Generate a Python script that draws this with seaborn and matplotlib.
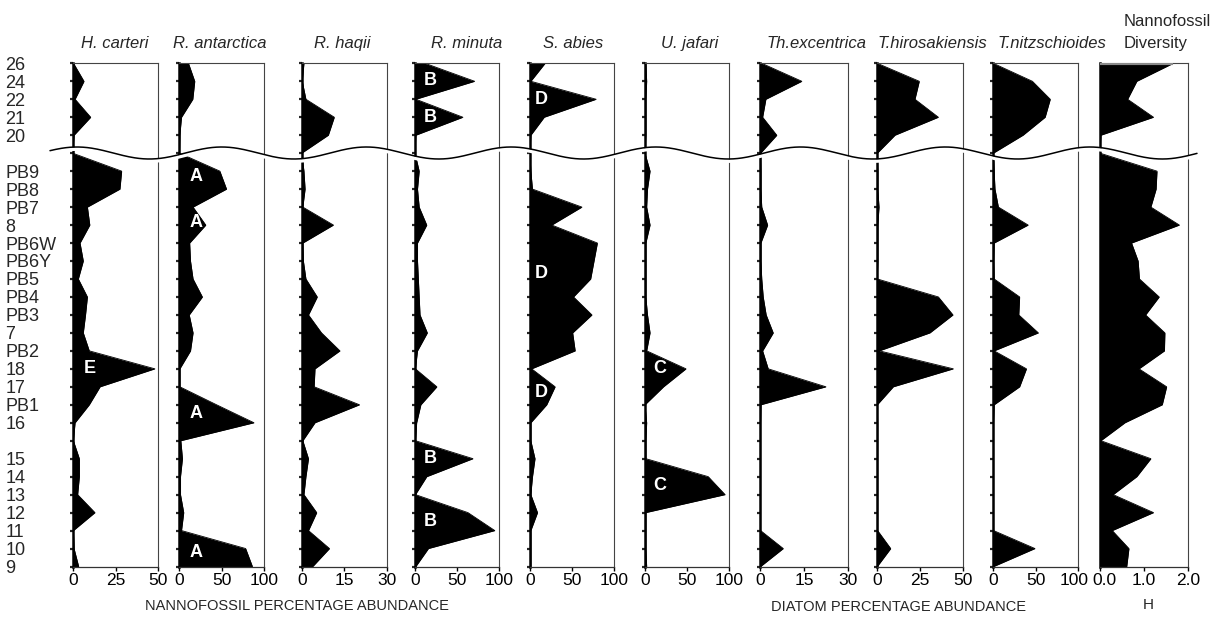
import numpy as np
import matplotlib
matplotlib.use('Agg')
import matplotlib.pyplot as plt
import matplotlib.transforms as mtransforms
import seaborn as sns

# sample levels, top to bottom ('' = break / gap rows)
sample_labels = ['26', '24', '22', '21', '20', '', 'PB9', 'PB8', 'PB7', '8', 'PB6W', 'PB6Y',
                 'PB5', 'PB4', 'PB3', '7', 'PB2', '18', '17', 'PB1', '16', '',
                 '15', '14', '13', '12', '11', '10', '9']

h_carteri = [0.5, 6.6, 1.4, 10.5, 0.8, 0, 28.6, 27.6, 8.6, 10, 4.3, 6.2, 3.3, 8.6, 7.5,
             6.2, 9.7, 48, 16, 9.7, 1.4, 0.4, 3.9, 3.9, 2.9, 13, 0.4, 0.8, 3.5]
r_antarctica = [10.6, 18, 15.7, 2.4, 0.4, 0, 47.6, 55.5, 16, 31, 12, 13, 16, 27, 11.5,
                16, 13, 0.4, 0.4, 43.7, 87.8, 1.6, 3.5, 1.2, 1.2, 5, 2.4, 78, 86]
r_haqii = [0.8, 0.2, 1.5, 11.5, 9.4, 0, 0.8, 1.2, 0.4, 11.2, 0.4, 0.6, 1.5, 5.5, 2.4,
           7, 13.5, 4.7, 4.4, 20.4, 4.7, 0.4, 2.4, 1.5, 0.8, 5.3, 2.4, 9.8, 3.9]
r_minuta = [12, 71, 1, 57, 1, 0, 5, 3, 5, 14, 3, 3, 4, 5, 6,
            14.7, 3, 0.5, 26, 7, 2, 0.5, 69, 14, 0.5, 63, 95, 16, 1]
s_abies = [18, 1, 79, 17, 1, 0, 1, 3, 62, 26, 80.5, 76.5, 72.5, 52, 74,
           51, 54, 2, 30, 20, 1, 1, 6, 3, 1, 9, 1, 1, 1]
u_jafari = [1, 2, 1, 1, 1, 0, 6, 3, 2, 6, 1, 1, 1, 1, 3,
            6, 2, 48.6, 22, 0, 2, 1, 1, 75, 95, 1, 1, 1, 2]
th_excentrica = [0.6, 14.2, 2, 0.9, 5.7, 0.2, 0.3, 0.3, 0.6, 2.6, 0.3, 0.3, 0.6, 1.1, 2.1,
                 4.5, 0.9, 2.8, 22.4, 0.3, 0.2, 0.2, 0.2, 0.2, 0.2, 0.2, 0.2, 7.9, 0.2]
t_hirosakiensis = [0, 24.4, 21.9, 35.5, 10.3, 0, 0.3, 0.3, 1, 0.3, 0.3, 0.3, 0, 35.5, 44,
                   30.6, 1.2, 44.2, 9.3, 0, 0.2, 0.2, 0.2, 0.2, 0.2, 0.2, 0.2, 7.8, 0]
t_nitzschioides = [0, 46, 67, 61, 35, 0, 1, 2, 6, 41, 1, 0.5, 1, 31, 30,
                   53, 1, 39, 31, 1, 0.3, 0.3, 0.3, 0.3, 0.3, 0.3, 0.3, 49, 0.5]
diversity = [1.67, 0.84, 0.63, 1.22, 0.02, 0, 1.3, 1.28, 1.16, 1.81, 0.72, 0.87, 0.9, 1.35, 1.04,
             1.48, 1.47, 0.89, 1.52, 1.42, 0.57, 0.02, 1.16, 0.84, 0.3, 1.22, 0.28, 0.66, 0.61]

titles = ['H. carteri', 'R. antarctica', 'R. haqii', 'R. minuta', 'S. abies', 'U. jafari',
          'Th.excentrica', 'T.hirosakiensis', 'T.nitzschioides', 'Diversity']
series = [h_carteri, r_antarctica, r_haqii, r_minuta, s_abies, u_jafari,
          th_excentrica, t_hirosakiensis, t_nitzschioides, diversity]
x_max = [50, 100, 30, 100, 100, 100, 30, 50, 100, 2.0]

# zone letters: (panel, value, row, letter)
zone_letters = [(0, 10, 17, 'E'),
                (1, 19, 6.3, 'A'), (1, 19, 8.85, 'A'), (1, 19, 19.5, 'A'), (1, 19, 27.2, 'A'),
                (3, 18, 0.95, 'B'), (3, 18, 3.0, 'B'), (3, 18, 22, 'B'), (3, 18, 25.5, 'B'),
                (4, 13, 2, 'D'), (4, 13, 11.7, 'D'), (4, 13, 18.3, 'D'),
                (5, 18, 17, 'C'), (5, 18, 23.5, 'C')]

sns.set_theme(style='ticks')
plt.rcParams['font.family'] = ['Liberation Sans', 'DejaVu Sans']

W, H = 1215, 641
fig = plt.figure(figsize=(W / 100, H / 100), dpi=100)

panel_px = [(72.7, 158.3), (179.5, 264.3), (301.7, 386.7), (415, 499), (530, 613.7),
            (645, 729.3), (760, 848.3), (877.3, 963.3), (993.3, 1078.3), (1100, 1187.7)]
title_x = [0.49, 0.48, 0.48, 0.62, 0.52, 0.53, 0.64, 0.64, 0.69, 0.63]
top_px, bot_px = 63.3, 566.5
rows = np.arange(len(sample_labels))

axes = []
for i, (name, vals, xm) in enumerate(zip(titles, series, x_max)):
    l, r = panel_px[i]
    ax = fig.add_axes([l / W, 1 - bot_px / H, (r - l) / W, (bot_px - top_px) / H])
    axes.append(ax)
    ax.fill_betweenx(rows, 0, vals, color='black', lw=0)
    sns.lineplot(x=vals, y=rows, orient='y', color='black', lw=0.6, ax=ax)
    ax.set_xlim(0, xm)
    ax.set_ylim(len(rows) - 1, 0)
    ax.set_xlabel('')
    ax.set_ylabel('')

    ticks = [0, xm / 2, xm]
    ax.set_xticks(ticks)
    if i == 9:
        ax.set_xticklabels(['%.1f' % t for t in ticks], fontsize=12.5)
    else:
        ax.set_xticklabels(['%d' % t for t in ticks], fontsize=12.5)
    ax.tick_params(axis='x', length=3, width=1, pad=2, colors='black')

    ax.set_yticks(rows)
    if i == 0:
        ax.set_yticklabels(sample_labels, fontsize=13)
        for lab in ax.get_yticklabels():
            lab.set_horizontalalignment('left')
        ax.tick_params(axis='y', length=2.5, width=1.6, pad=46)
    elif i == 9:
        ax.set_yticklabels([])
        ax.tick_params(axis='y', length=0)
    else:
        ax.set_yticklabels([])
        ax.tick_params(axis='y', length=2.5, width=1.6)

    for side in ['top', 'right']:
        ax.spines[side].set_color('#444444')
        ax.spines[side].set_linewidth(0.8)
    ax.spines['bottom'].set_color('#333333')
    ax.spines['bottom'].set_linewidth(0.9)
    ax.spines['left'].set_color('black')
    ax.spines['left'].set_linewidth(1.8)

    ax.set_title(name, fontsize=12, style='normal' if i == 9 else 'italic',
                 x=title_x[i], pad=11)

# nudge the two crowded labels between the last two panels apart a little
lab_100 = axes[8].get_xticklabels()[-1]
lab_100.set_transform(lab_100.get_transform() +
                      mtransforms.ScaledTranslation(-3 / 72, 0, fig.dpi_scale_trans))
lab_00 = axes[9].get_xticklabels()[0]
lab_00.set_transform(lab_00.get_transform() +
                     mtransforms.ScaledTranslation(3 / 72, 0, fig.dpi_scale_trans))

# grey cap on top of the diversity fill
axes[9].hlines(0, 0, diversity[0], color='#8a8a8a', lw=3, zorder=5)
axes[9].annotate('Nannofossil', xy=(0.77, 1), xycoords='axes fraction',
                 xytext=(0, 27), textcoords='offset points', ha='center', va='baseline',
                 fontsize=12)

for p, xv, yv, letter in zone_letters:
    axes[p].text(xv, yv, letter, color='white', fontweight='bold', fontsize=13,
                 ha='center', va='center', zorder=6)

# wavy break line across all panels
ov = fig.add_axes([0, 0, 1, 1], zorder=10)
ov.set_xlim(0, W)
ov.set_ylim(H, 0)
ov.axis('off')
ov.patch.set_alpha(0)
wx = np.linspace(50, 1197, 800)
wy = 153 - 6 * np.cos(2 * np.pi * (wx - 77) / 144.7)
ov.plot(wx, wy + 2.2, color='white', lw=2.5)
ov.plot(wx, wy, color='black', lw=1.1)

fig.text(297 / W, 1 - 606 / H, 'NANNOFOSSIL PERCENTAGE ABUNDANCE', ha='center', va='center',
         fontsize=10.5)
fig.text(898 / W, 1 - 607 / H, 'DIATOM PERCENTAGE ABUNDANCE', ha='center', va='center',
         fontsize=10.5)
fig.text(1148 / W, 1 - 605 / H, 'H', ha='center', va='center', fontsize=11)

fig.savefig('out.png', dpi=100)
